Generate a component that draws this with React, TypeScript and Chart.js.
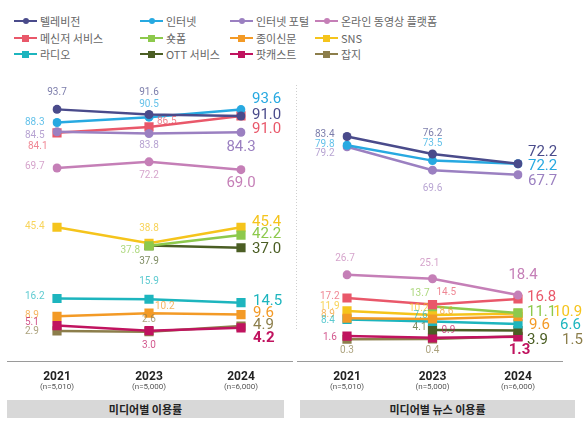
import React, { useEffect, useRef } from 'react';
import { Chart, registerables } from 'chart.js';

Chart.register(...registerables);

const years = ['2021', '2023', '2024'];
const sampleSizes = ['(n=5,010)', '(n=5,000)', '(n=6,000)'];

// 미디어별 이용률
const tvUse = [93.7, 91.6, 91.0];
const internetUse = [88.3, 90.5, 93.6];
const portalUse = [84.5, 83.8, 84.3];
const videoUse = [69.7, 72.2, 69.0];
const messengerUse = [84.1, 86.5, 91.0];
const shortformUse = [null, 37.8, 42.2];
const paperUse = [8.9, 10.2, 9.6];
const snsUse = [45.4, 38.8, 45.4];
const radioUse = [16.2, 15.9, 14.5];
const ottUse = [null, 37.9, 37.0];
const podcastUse = [5.1, 3.0, 4.2];
const magazineUse = [2.9, 2.6, 4.9];

// 미디어별 뉴스 이용률
const tvNews = [83.4, 76.2, 72.2];
const internetNews = [79.8, 73.5, 72.2];
const portalNews = [79.2, 69.6, 67.7];
const videoNews = [26.7, 25.1, 18.4];
const messengerNews = [17.2, 14.5, 16.8];
const shortformNews = [null, 13.7, 11.1];
const paperNews = [8.9, 8.6, 9.6];
const snsNews = [11.9, 10.2, 10.9];
const radioNews = [8.4, 7.6, 6.6];
const ottNews = [null, 4.1, 3.9];
const podcastNews = [1.6, 0.9, 1.3];
const magazineNews = [0.3, 0.4, 1.5];

type Series = { key: string; name: string; color: string; shape: 'circle' | 'rect'; use: (number | null)[]; news: (number | null)[] };

const series: Series[] = [
  { key: 'tv', name: '텔레비전', color: '#4a4b8b', shape: 'circle', use: tvUse, news: tvNews },
  { key: 'internet', name: '인터넷', color: '#27a9e1', shape: 'circle', use: internetUse, news: internetNews },
  { key: 'portal', name: '인터넷 포털', color: '#9b80c1', shape: 'circle', use: portalUse, news: portalNews },
  { key: 'video', name: '온라인 동영상 플랫폼', color: '#c57fb7', shape: 'circle', use: videoUse, news: videoNews },
  { key: 'messenger', name: '메신저 서비스', color: '#e9586a', shape: 'rect', use: messengerUse, news: messengerNews },
  { key: 'shortform', name: '숏폼', color: '#8dc94c', shape: 'rect', use: shortformUse, news: shortformNews },
  { key: 'paper', name: '종이신문', color: '#f39a26', shape: 'rect', use: paperUse, news: paperNews },
  { key: 'sns', name: 'SNS', color: '#f5c41c', shape: 'rect', use: snsUse, news: snsNews },
  { key: 'radio', name: '라디오', color: '#1db5be', shape: 'rect', use: radioUse, news: radioNews },
  { key: 'ott', name: 'OTT 서비스', color: '#4b5e24', shape: 'rect', use: ottUse, news: ottNews },
  { key: 'podcast', name: '팟캐스트', color: '#c0135f', shape: 'rect', use: podcastUse, news: podcastNews },
  { key: 'magazine', name: '잡지', color: '#8c7e4b', shape: 'rect', use: magazineUse, news: magazineNews },
];

type Pos = [number, number, 'l' | 'r' | 'c'] | null;

const useLabelPos: Record<string, Pos[]> = {
  tv: [[0, -17, 'c'], [0, -22, 'c'], [11, -1, 'l']],
  internet: [[-32, 0, 'l'], [0, -13, 'c'], [11, -10, 'l']],
  portal: [[-32, 4, 'l'], [0, 12, 'c'], [0, 15, 'c']],
  video: [[-32, -1, 'l'], [0, 14, 'c'], [0, 14, 'c']],
  messenger: [[-29, 14, 'l'], [8, -5, 'l'], [11, 13, 'l']],
  shortform: [null, [-9, 5, 'r'], [11, -1, 'l']],
  paper: [[-32, -1, 'l'], [6, -7, 'l'], [12, -1, 'l']],
  sns: [[-32, -1, 'l'], [0, -15, 'c'], [11, -5, 'l']],
  radio: [[-32, -2, 'l'], [0, -18, 'c'], [12, -1, 'l']],
  ott: [null, [0, 16, 'c'], [11, 2, 'l']],
  podcast: [[-32, -3, 'l'], [0, 15, 'c'], [12, 10, 'l']],
  magazine: [[-32, 1, 'l'], [0, -12, 'c'], [12, -1, 'l']],
};

const newsLabelPos: Record<string, Pos[]> = {
  tv: [[-32, -2, 'l'], [0, -21, 'c'], [10, -12, 'l']],
  internet: [[-32, -1, 'l'], [0, -17, 'c'], [10, 2, 'l']],
  portal: [[-32, 7, 'l'], [0, 18, 'c'], [10, 6, 'l']],
  video: [[-2, -16, 'c'], [-3, -15, 'c'], [5, -20, 'c']],
  messenger: [[-27, -2, 'l'], [4, -12, 'l'], [9, -2, 'l']],
  shortform: [null, [-3, -13, 'r'], [9, -1, 'l']],
  paper: [[-26, -4, 'l'], [7, -8, 'l'], [11, 9, 'l']],
  sns: [[-27, -4, 'l'], [-4, -7, 'r'], [35, -1, 'l']],
  radio: [[-26, 1.5, 'l'], [-5, -6, 'r'], [42, 1.5, 'l']],
  ott: [null, [-6, -2, 'r'], [9, 9.5, 'l']],
  podcast: [[-24, 1.5, 'l'], [9, -7, 'l'], [1.5, 13, 'c']],
  magazine: [[0, 11, 'c'], [0, 11, 'c'], [44, 4, 'l']],
};

const NUM_FONT = 'Roboto, "Noto Sans CJK KR", sans-serif';
const KR_FONT = '"Noto Sans CJK KR", "Noto Sans", sans-serif';

function makeLabelPlugin(posMap: Record<string, Pos[]>, axisLine: [number, number], bigSize: number, sep: boolean) {
  return {
    id: 'customLabels',
    afterDatasetsDraw(chart: any) {
      const ctx = chart.ctx;
      ctx.save();
      const yBase = chart.chartArea.bottom + 1;
      ctx.strokeStyle = '#9a9a9a';
      ctx.lineWidth = 1;
      ctx.beginPath();
      ctx.moveTo(axisLine[0], yBase + 0.5);
      ctx.lineTo(axisLine[1], yBase + 0.5);
      ctx.stroke();
      if (sep) {
        ctx.strokeStyle = '#cfcfcf';
        ctx.setLineDash([1, 2]);
        ctx.beginPath();
        ctx.moveTo(3.5, 85);
        ctx.lineTo(3.5, 330);
        ctx.stroke();
        ctx.setLineDash([]);
      }
      const xScale = chart.scales.x;
      years.forEach((yr, i) => {
        const x = xScale.getPixelForValue(i);
        ctx.fillStyle = '#222';
        ctx.textAlign = 'center';
        ctx.textBaseline = 'middle';
        ctx.font = `bold 12px ${NUM_FONT}`;
        ctx.fillText(yr, x, yBase + 16);
        ctx.fillStyle = '#555';
        ctx.font = `8px ${NUM_FONT}`;
        ctx.fillText(sampleSizes[i], x, yBase + 26);
      });
      chart.data.datasets.forEach((ds: any, di: number) => {
        const meta = chart.getDatasetMeta(di);
        const pos = posMap[ds.seriesKey];
        meta.data.forEach((el: any, j: number) => {
          const v = ds.data[j];
          const p = pos[j];
          if (v === null || v === undefined || !p) return;
          const big = j === 2;
          ctx.textBaseline = 'middle';
          ctx.textAlign = p[2] === 'l' ? 'left' : p[2] === 'r' ? 'right' : 'center';
          const weight = ds.seriesKey === 'podcast' ? 700 : 400;
          ctx.font = big ? `${weight} ${bigSize}px ${NUM_FONT}` : `10px ${NUM_FONT}`;
          ctx.fillStyle = ds.borderColor;
          ctx.globalAlpha = big ? 1 : 0.72;
          ctx.fillText(v.toFixed(1), el.x + p[0], el.y + p[1]);
        });
      });
      ctx.globalAlpha = 1;
      ctx.restore();
    },
  };
}

function buildConfig(field: 'use' | 'news', min: number, max: number, padding: any, posMap: Record<string, Pos[]>, axisLine: [number, number], bigSize: number, sep: boolean) {
  return {
    type: 'line' as const,
    data: {
      labels: years,
      datasets: series.map((s) => ({
        label: s.name,
        seriesKey: s.key,
        data: s[field],
        borderColor: s.color,
        backgroundColor: s.color,
        pointBackgroundColor: s.color,
        pointBorderColor: s.color,
        borderWidth: 2.5,
        pointStyle: s.shape,
        pointRadius: s.shape === 'circle' ? 4.5 : 6.5,
        pointBorderWidth: 0,
        spanGaps: false,
        tension: 0,
      })),
    },
    options: {
      animation: false,
      responsive: false,
      maintainAspectRatio: false,
      layout: { padding },
      plugins: { legend: { display: false }, tooltip: { enabled: false } },
      scales: {
        x: { type: 'category', display: false, offset: false },
        y: { type: 'linear', display: false, min, max },
      },
    },
    plugins: [makeLabelPlugin(posMap, axisLine, bigSize, sep)],
  };
}

function ChartCanvas({ config, width, height, left }: any) {
  const ref = useRef<HTMLCanvasElement>(null);
  useEffect(() => {
    if (!ref.current) return;
    const chart = new Chart(ref.current, config);
    return () => chart.destroy();
  }, []);
  return (
    <canvas
      ref={ref}
      width={width}
      height={height}
      style={{ position: 'absolute', left, top: 0, width, height }}
    />
  );
}

const legendCols = [14, 140, 230, 315];
const legendRows = [21, 38, 54];

function Legend() {
  return (
    <>
      {series.map((s, i) => {
        const col = i % 4;
        const row = Math.floor(i / 4);
        const x = legendCols[col];
        const y = legendRows[row];
        const mk = s.shape === 'circle' ? 6 : 7;
        return (
          <div key={s.key} style={{ position: 'absolute', left: x, top: y - 8, height: 16, display: 'flex', alignItems: 'center' }}>
            <div style={{ position: 'relative', width: 23, height: 16 }}>
              <div style={{ position: 'absolute', left: 0, top: 7, width: 23, height: 2, background: s.color }} />
              <div style={{ position: 'absolute', left: 11.5 - mk / 2, top: 8 - mk / 2, width: mk, height: mk, background: s.color, borderRadius: s.shape === 'circle' ? '50%' : 0 }} />
            </div>
            <span style={{ marginLeft: 3, fontSize: 11, color: '#666', fontFamily: KR_FONT, whiteSpace: 'nowrap', lineHeight: '16px' }}>{s.name}</span>
          </div>
        );
      })}
    </>
  );
}

function TitleBox({ left, width, text }: any) {
  return (
    <div style={{ position: 'absolute', left, top: 400, width, height: 18, background: '#d8d8d8', display: 'flex', alignItems: 'center', justifyContent: 'center', fontFamily: KR_FONT, fontWeight: 700, fontSize: 11, color: '#222' }}>
      {text}
    </div>
  );
}

export default function App() {
  const leftConfig = buildConfig('use', -9, 100, { left: 57, right: 52, top: 94, bottom: 62 }, useLabelPos, [7, 293], 15, false);
  const rightConfig = buildConfig('news', -8.2, 100.8, { left: 54, right: 67, top: 94, bottom: 62 }, newsLabelPos, [4, 270], 15, true);
  return (
    <div style={{ position: 'fixed', left: 0, top: 0, width: 585, height: 422, background: '#fff', overflow: 'hidden' }}>
      <Legend />
      <ChartCanvas config={leftConfig} width={293} height={422} left={0} />
      <ChartCanvas config={rightConfig} width={292} height={422} left={293} />
      <TitleBox left={7} width={277} text="미디어별 이용률" />
      <TitleBox left={300} width={275} text="미디어별 뉴스 이용률" />
    </div>
  );
}
